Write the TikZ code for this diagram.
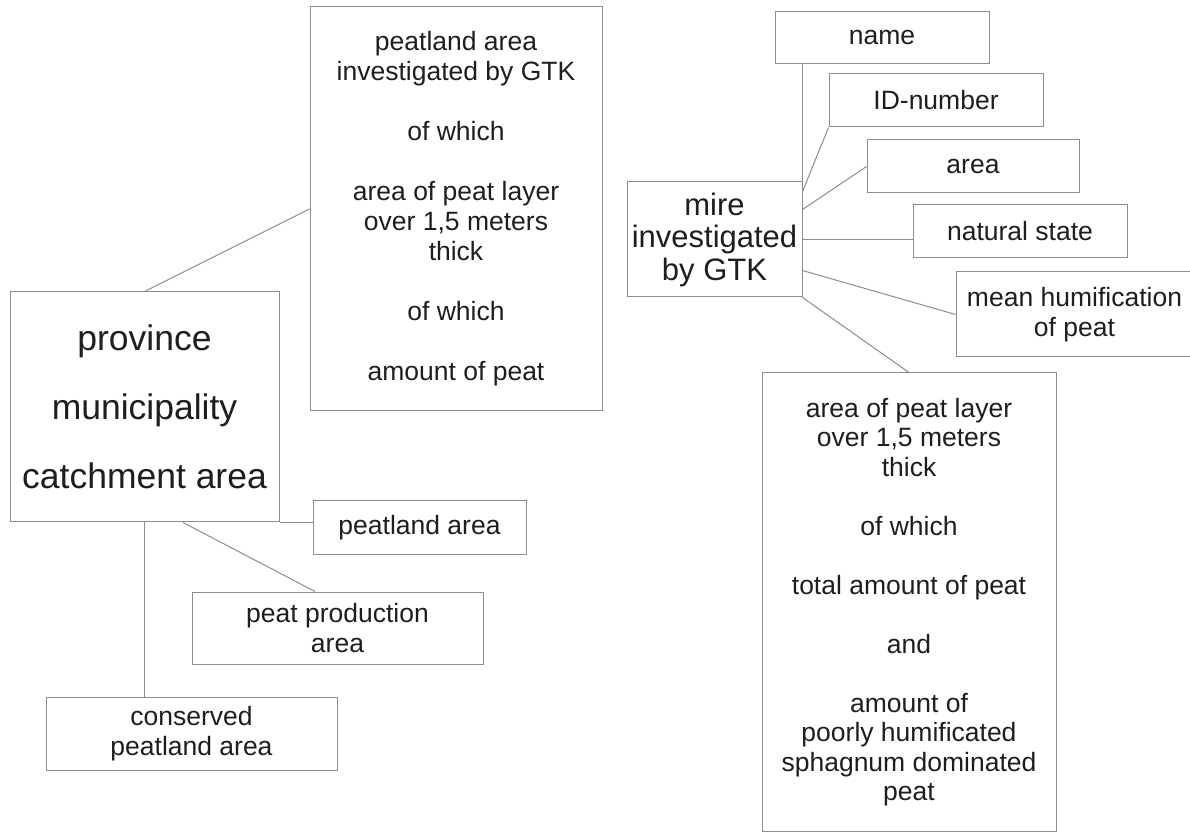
\documentclass[tikz,border=0pt]{standalone}
\usepackage{fontspec}
\setmainfont{Liberation Sans}
\definecolor{linegray}{RGB}{140,140,140}
\definecolor{txt}{RGB}{30,30,30}
\tikzset{
  box/.style={draw=linegray, line width=1pt, rectangle, inner sep=0pt, align=center, text=txt,
    font=\fontsize{26.5}{30}\selectfont},
  link/.style={draw=linegray, line width=1pt}
}
\begin{document}
\begin{tikzpicture}[x=1pt,y=1pt]
\useasboundingbox (0,0) rectangle (1190,833);
% left group
\node[box, minimum width=269, minimum height=230, font=\fontsize{35.5}{69}\selectfont] (prov) at (144.5,426)
  {province\\municipality\\catchment area};
\node[box, minimum width=292, minimum height=404] (gtk) at (456,624)
  {peatland area\\investigated by GTK\\[30pt]of which\\[30pt]area of peat layer\\over 1,5 meters\\thick\\[30pt]of which\\[30pt]amount of peat};
\node[box, minimum width=213, minimum height=53] (pa) at (419.5,305.5) {peatland area};
\node[box, minimum width=291, minimum height=72] (ppa) at (337.5,205) {peat production\\area};
\node[box, minimum width=291, minimum height=73] (cpa) at (191.5,99.5) {conserved\\peatland area};
% right group
\node[box, minimum width=175, minimum height=115, font=\fontsize{31}{32.5}\selectfont] (mire) at (714.5,593.5)
  {mire\\investigated\\by GTK};
\node[box, minimum width=214, minimum height=52] (name) at (882,795) {name};
\node[box, minimum width=214, minimum height=53] (id) at (936,732.5) {ID-number};
\node[box, minimum width=212, minimum height=53] (area) at (973,666.5) {area};
\node[box, minimum width=214, minimum height=53] (nat) at (1020,601.5) {natural state};
\node[box, minimum width=237, minimum height=85] (mean) at (1074.5,518.5) {mean humification\\of peat};
\node[box, minimum width=294, minimum height=458, font=\fontsize{26.5}{29.5}\selectfont] (big) at (909,231)
  {area of peat layer\\over 1,5 meters\\thick\\[29.5pt]of which\\[29.5pt]total amount of peat\\[29.5pt]and\\[29.5pt]amount of\\poorly humificated\\sphagnum dominated\\peat};
% connectors left
\draw[link] (prov.north) -- (gtk.west);
\draw[link] (prov.south) -- (prov.south |- cpa.north);
\draw[link] ([xshift=38.5pt]prov.south) -- ([xshift=-22.5pt]ppa.north);
\draw[link] (prov.south east) -- (prov.south east -| pa.west);
% connectors right
\draw[link] (mire.north east) -- (mire.north east |- name.south);
\draw[link] ([yshift=-10pt]mire.north east) -- (id.south west);
\draw[link] ([yshift=-28pt]mire.north east) -- (area.west);
\draw[link] (mire.east) -- (mire.east -| nat.west);
\draw[link] ([yshift=-89pt]mire.north east) -- (mean.west);
\draw[link] (mire.south east) -- (big.north);
\end{tikzpicture}
\end{document}
